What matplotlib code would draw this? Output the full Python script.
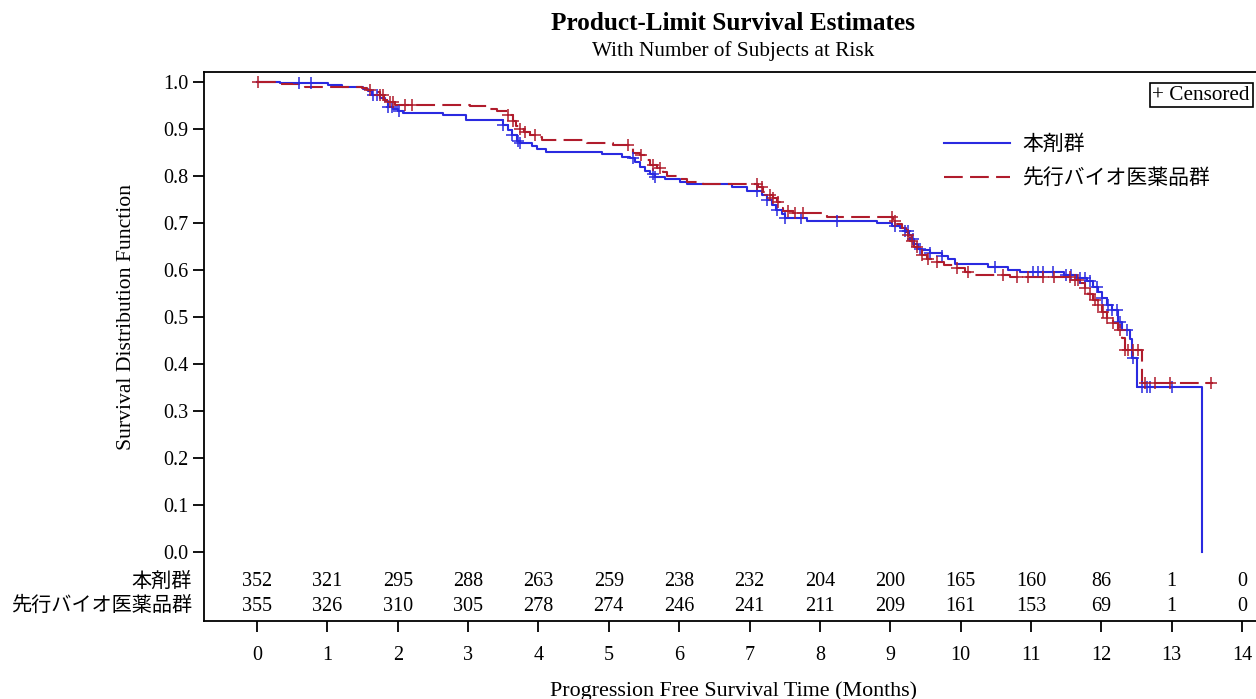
import numpy as np
import matplotlib
matplotlib.use('Agg')
import matplotlib.pyplot as plt

plt.rcParams['font.family'] = ['Liberation Serif', 'Noto Sans CJK JP', 'DejaVu Sans']

# Group names
GROUPS = ['本剤群', '先行バイオ医薬品群']

# 本剤群: step times (months) and survival after each step
blue_times = [0.0, 0.33, 1.01, 1.21, 1.51, 1.58, 1.63, 1.75, 1.82, 1.86, 1.93, 2.00, 2.08,
              2.64, 2.97, 3.50, 3.57, 3.62, 3.70, 3.74, 3.91, 3.98, 4.11, 4.90, 5.19, 5.30,
              5.37, 5.44, 5.51, 5.59, 5.66, 5.80, 6.01, 6.11, 6.75, 6.96, 7.18, 7.25, 7.32,
              7.38, 7.46, 7.50, 7.82, 8.81, 9.03, 9.14, 9.21, 9.27, 9.31, 9.34, 9.39, 9.45,
              9.57, 9.74, 9.82, 9.92, 10.39, 10.67, 10.84, 11.47, 11.65, 11.80, 11.88, 11.95,
              12.01, 12.08, 12.15, 12.24, 12.29, 12.41, 12.44, 12.51, 13.43]
blue_surv = [1.0, 0.998, 0.994, 0.990, 0.985, 0.981, 0.972, 0.966, 0.960, 0.947, 0.943, 0.938, 0.935,
             0.930, 0.920, 0.909, 0.898, 0.887, 0.874, 0.870, 0.864, 0.857, 0.851, 0.846, 0.841, 0.838,
             0.830, 0.819, 0.811, 0.804, 0.798, 0.793, 0.787, 0.782, 0.777, 0.769, 0.760, 0.749, 0.738,
             0.728, 0.720, 0.711, 0.704, 0.699, 0.694, 0.689, 0.683, 0.674, 0.665, 0.655, 0.645, 0.642,
             0.636, 0.629, 0.624, 0.613, 0.607, 0.599, 0.596, 0.589, 0.584, 0.577, 0.564, 0.554,
             0.540, 0.526, 0.515, 0.490, 0.472, 0.453, 0.413, 0.351, 0.0]
blue_censor = [0.60, 0.77, 1.65, 1.71, 1.86, 1.92, 2.02, 3.50, 3.62, 3.71, 3.74, 5.34, 5.63, 5.66,
               7.11, 7.25, 7.39, 7.50, 7.73, 8.24, 9.07, 9.21, 9.25, 9.32, 9.42, 9.57, 9.74, 10.49,
               11.03, 11.10, 11.17, 11.31, 11.50, 11.57, 11.70, 11.77, 11.84, 11.94, 12.01, 12.09,
               12.15, 12.22, 12.27, 12.37, 12.45, 12.58, 12.65, 12.69, 13.00]

# 先行バイオ医薬品群
red_times = [0.0, 0.33, 0.68, 1.49, 1.56, 1.68, 1.75, 1.81, 1.86, 1.96, 2.60, 3.03, 3.31, 3.41,
             3.57, 3.64, 3.68, 3.72, 3.79, 3.88, 3.98, 4.05, 4.69, 5.06, 5.34, 5.44, 5.54, 5.59,
             5.69, 5.77, 5.83, 6.01, 6.11, 6.34, 7.12, 7.19, 7.26, 7.33, 7.39, 7.43, 7.48, 7.62,
             8.10, 9.04, 9.10, 9.17, 9.22, 9.28, 9.34, 9.39, 9.45, 9.52, 9.64, 9.76, 9.93, 10.06,
             10.13, 10.70, 11.58, 11.70, 11.77, 11.81, 11.88, 11.95, 12.01, 12.08, 12.17, 12.24,
             12.29, 12.34, 12.58, 13.59]
red_surv = [1.0, 0.995, 0.990, 0.987, 0.983, 0.978, 0.972, 0.962, 0.957, 0.952, 0.951, 0.948, 0.943, 0.939,
            0.930, 0.916, 0.907, 0.901, 0.894, 0.887, 0.882, 0.876, 0.871, 0.866, 0.850, 0.845, 0.834, 0.823,
            0.816, 0.809, 0.799, 0.793, 0.788, 0.784, 0.777, 0.767, 0.760, 0.753, 0.745, 0.731, 0.726, 0.722,
            0.713, 0.704, 0.698, 0.689, 0.674, 0.661, 0.650, 0.640, 0.632, 0.623, 0.617, 0.611, 0.604, 0.595,
            0.590, 0.585, 0.579, 0.572, 0.561, 0.550, 0.536, 0.526, 0.511, 0.497, 0.487, 0.472,
            0.455, 0.430, 0.359, 0.359]
red_censor = [0.02, 1.61, 1.75, 1.79, 1.89, 1.93, 2.10, 2.20, 3.57, 3.64, 3.74, 3.81, 3.95, 5.27,
              5.46, 5.63, 5.73, 7.11, 7.18, 7.29, 7.33, 7.40, 7.55, 7.65, 7.76, 9.02, 9.07, 9.25,
              9.31, 9.38, 9.45, 9.54, 9.66, 9.95, 10.11, 10.60, 10.80, 10.96, 11.17, 11.33, 11.55,
              11.63, 11.67, 11.77, 11.84, 11.91, 11.95, 12.02, 12.08, 12.17, 12.27, 12.34, 12.38,
              12.45, 12.52, 12.62, 12.76, 12.98, 13.56]

# Number at risk
risk_times = list(range(0, 15))
risk_blue = [352, 321, 295, 288, 263, 259, 238, 232, 204, 200, 165, 160, 86, 1, 0]
risk_red = [355, 326, 310, 305, 278, 274, 246, 241, 211, 209, 161, 153, 69, 1, 0]

BLUE = '#2a2ae0'
RED = '#b01c2c'


def surv_at(times, surv, t):
    idx = np.searchsorted(times, t, side='right') - 1
    return np.asarray(surv)[idx]


def main():
    fig = plt.figure(figsize=(12.56, 6.99), dpi=100)
    ax = fig.add_axes([204 / 1256, 1 - 621 / 699, 1054 / 1256, 549 / 699])

    ax.step(blue_times, blue_surv, where='post', color=BLUE, lw=1.5, label=GROUPS[0])
    ax.step(red_times, red_surv, where='post', color=RED, lw=1.5,
            linestyle=(0, (9, 3.5)), label=GROUPS[1])

    ax.plot(blue_censor, surv_at(blue_times, blue_surv, blue_censor), ls='none',
            marker='+', ms=9, mew=1.1, color=BLUE)
    ax.plot(red_censor, surv_at(red_times, red_surv, red_censor), ls='none',
            marker='+', ms=9, mew=1.1, color=RED)

    ax.set_xlim(-0.753, 14.227)
    ax.set_ylim(-0.1468, 1.0213)
    ax.set_xticks(range(0, 15))
    ax.set_yticks(np.arange(0, 1.01, 0.1))
    ax.set_yticklabels([f'{v:.1f}' for v in np.arange(0, 1.01, 0.1)])
    ax.tick_params(axis='both', labelsize=14.5, width=1.3, length=8, direction='out')
    ax.tick_params(axis='x', pad=10)
    for s in ax.spines.values():
        s.set_linewidth(1.3)

    # at-risk table inside the plot area
    row_y = [-0.0638, -0.1149]
    for vals, y in zip([risk_blue, risk_red], row_y):
        for t, n in zip(risk_times, vals):
            ax.text(t, y, str(n), ha='center', va='center', fontsize=14.5)
    ytr = ax.get_yaxis_transform()
    for name, y in zip(GROUPS, row_y):
        ax.text(-0.0114, y, name, transform=ytr, ha='right', va='center',
                fontsize=14.5, clip_on=False)

    ax.set_ylabel('Survival Distribution Function', fontsize=15.6)
    ax.yaxis.set_label_coords(-0.0646, 0.553)
    ax.set_xlabel('Progression Free Survival Time (Months)', fontsize=15.8)
    ax.xaxis.set_label_coords(0.502, -0.109)

    fig.text(733 / 1256, 1 - 24 / 699, 'Product-Limit Survival Estimates',
             ha='center', va='center', fontsize=18.2, fontweight='bold')
    fig.text(733 / 1256, 1 - 51 / 699, 'With Number of Subjects at Risk',
             ha='center', va='center', fontsize=15.3)

    ax.text(0.9924, 0.958, '+ Censored', transform=ax.transAxes, ha='right', va='center',
            fontsize=15.3, bbox=dict(boxstyle='square,pad=0.12', fc='white', ec='black', lw=1.2))

    ax.legend(loc='upper left', bbox_to_anchor=((936 - 204) / 1054, (621 - 127) / 549),
              frameon=False, fontsize=15, handlelength=3.17, handletextpad=0.58,
              labelspacing=0.69, borderaxespad=0)

    fig.savefig('out.png', dpi=100)


if __name__ == '__main__':
    main()
